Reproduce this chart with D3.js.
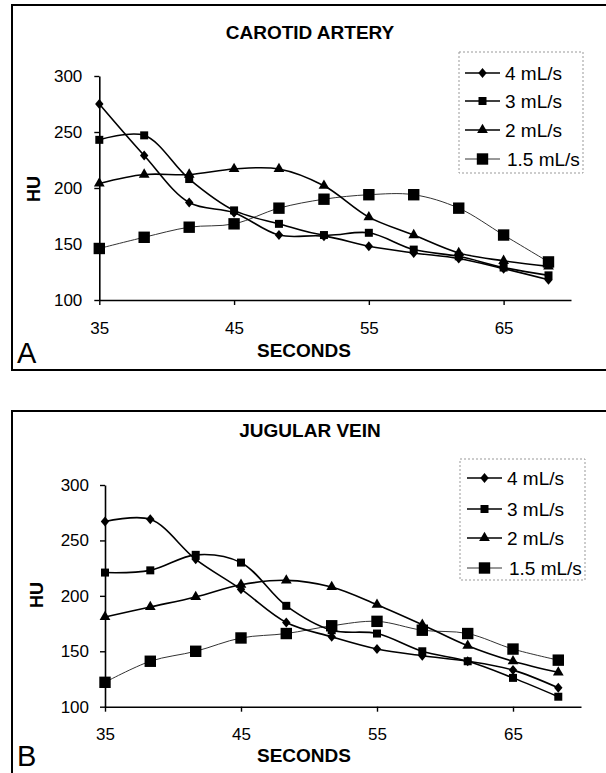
<!DOCTYPE html>
<html><head><meta charset="utf-8">
<script src="https://cdn.jsdelivr.net/npm/d3@7"></script>
<style>
html,body{margin:0;padding:0;background:#fff;}
svg{display:block;font-family:"Liberation Sans",Arial,Helvetica,sans-serif;}
</style></head>
<body>
<svg id="chart" width="606" height="773"></svg>
<script>
const times = [35, 38.33, 41.67, 45, 48.33, 51.67, 55, 58.33, 61.67, 65, 68.33];
const seriesNames = ["4 mL/s", "3 mL/s", "2 mL/s", "1.5 mL/s"];
const xTicks = [35, 45, 55, 65];
const yTicks = [100, 150, 200, 250, 300];

const carotid4  = [275, 229, 187, 178, 158, 157, 148, 142, 137, 128, 118];
const carotid3  = [243, 247, 208, 180, 168, 158, 160, 145, 139, 129, 122];
const carotid2  = [204, 212, 212, 217, 217, 202, 174, 158, 142, 135, 130];
const carotid15 = [146, 156, 165, 168, 182, 190, 194, 194, 182, 158, 134];

const jugular4  = [267, 269, 233, 206, 176, 163, 152, 146, 141, 133, 117];
const jugular3  = [221, 223, 237, 230, 191, 169, 166, 150, 141, 126, 109];
const jugular2  = [181, 190, 199, 210, 214, 208, 192, 174, 155, 141, 131];
const jugular15 = [122, 141, 150, 162, 166, 173, 177, 169, 166, 152, 142];

const panels = [
  {title: "CAROTID ARTERY", letter: "A", series: [carotid4, carotid3, carotid2, carotid15],
   frame: {x: 12, y: 5, h: 365}, plot: {l: 99.3, r: 571, t: 76, b: 300},
   titleY: 39, xLabY: 357, letterY: 363, huX: 40, huY: 189, tickPadX: 17, tickPadY: 12,
   legend: {l: 459, r: 583, t: 52, b: 173, rows: [73, 101, 130, 159], lx: 465}},
  {title: "JUGULAR VEIN", letter: "B", series: [jugular4, jugular3, jugular2, jugular15],
   frame: {x: 12, y: 411, h: 420}, plot: {l: 105, r: 581, t: 485, b: 706.7},
   titleY: 437, xLabY: 762, letterY: 766, huX: 43, huY: 595, tickPadX: 16, tickPadY: 11,
   legend: {l: 460, r: 585, t: 459, b: 580, rows: [478, 509, 538, 568], lx: 467}}
];

// marker shapes
const diamondSym = {draw(ctx, s){ const w = 4.2, h = 5; ctx.moveTo(0,-h); ctx.lineTo(w,0); ctx.lineTo(0,h); ctx.lineTo(-w,0); ctx.closePath(); }};
const styles = [
  {sym: diamondSym, size: 1, width: 1.6, color: "#000"},
  {sym: d3.symbolSquare, size: 64, width: 1.6, color: "#000"},
  {sym: d3.symbolTriangle, size: 50, width: 1.6, color: "#000"},
  {sym: d3.symbolSquare, size: 130, width: 1, color: "#333"}
];

const svg = d3.select("#chart");

panels.forEach(p => {
  const g = svg.append("g");
  // frame
  g.append("rect").attr("x", p.frame.x).attr("y", p.frame.y)
    .attr("width", 620).attr("height", p.frame.h)
    .attr("fill", "none").attr("stroke", "#000").attr("stroke-width", 2);

  const x = d3.scaleLinear().domain([35, 70]).range([p.plot.l, p.plot.r]);
  const y = d3.scaleLinear().domain([100, 300]).range([p.plot.b, p.plot.t]);

  // axes
  const xa = g.append("g").attr("transform", `translate(0,${p.plot.b})`)
    .call(d3.axisBottom(x).tickValues(xTicks).tickSizeInner(5).tickSizeOuter(0).tickPadding(p.tickPadX).tickFormat(d3.format("d")));
  const ya = g.append("g").attr("transform", `translate(${p.plot.l},0)`)
    .call(d3.axisLeft(y).tickValues(yTicks).tickSizeInner(5).tickSizeOuter(0).tickPadding(p.tickPadY).tickFormat(d3.format("d")));
  [xa, ya].forEach(a => {
    a.selectAll("path.domain").attr("stroke", "#000").attr("stroke-width", 1.6);
    a.selectAll(".tick line").attr("stroke", "#000").attr("stroke-width", 1.4);
    a.selectAll(".tick text").attr("font-size", 17).attr("fill", "#000")
      .attr("font-family", "'Liberation Sans',Arial,sans-serif");
  });

  // title
  g.append("text").attr("x", 310).attr("y", p.titleY).attr("text-anchor", "middle")
    .attr("font-size", 19).attr("font-weight", "bold").text(p.title);
  // x label
  g.append("text").attr("x", 304).attr("y", p.xLabY).attr("text-anchor", "middle")
    .attr("font-size", 19).attr("font-weight", "bold").text("SECONDS");
  // y label
  g.append("text").attr("transform", `translate(${p.huX},${p.huY}) rotate(-90)`)
    .attr("text-anchor", "middle").attr("font-size", 18).attr("font-weight", "bold").text("HU");
  // panel letter
  g.append("text").attr("x", 17).attr("y", p.letterY).attr("font-size", 29).text(p.letter);

  // lines
  const line = d3.line().x((d, i) => x(times[i])).y(d => y(d)).curve(d3.curveCatmullRom.alpha(0.5));
  [3, 2, 1, 0].forEach(k => {
    const st = styles[k];
    g.append("path").datum(p.series[k]).attr("d", line)
      .attr("fill", "none").attr("stroke", st.color).attr("stroke-width", st.width);
  });
  [3, 2, 1, 0].forEach(k => {
    const st = styles[k];
    g.append("g").selectAll("path").data(p.series[k]).join("path")
      .attr("transform", (d, i) => `translate(${x(times[i])},${y(d)})`)
      .attr("d", d3.symbol(st.sym, st.size)).attr("fill", "#000");
  });

  // legend
  const L = p.legend;
  g.append("rect").attr("x", L.l).attr("y", L.t).attr("width", L.r - L.l).attr("height", L.b - L.t)
    .attr("fill", "none").attr("stroke", "#999").attr("stroke-width", 1).attr("stroke-dasharray", "2,2");
  seriesNames.forEach((name, k) => {
    const st = styles[k];
    const ry = L.rows[k];
    g.append("line").attr("x1", L.lx).attr("x2", L.lx + 35).attr("y1", ry).attr("y2", ry)
      .attr("stroke", st.color).attr("stroke-width", st.width);
    g.append("path").attr("transform", `translate(${L.lx + 17.5},${ry})`)
      .attr("d", d3.symbol(st.sym, st.size)).attr("fill", "#000");
    g.append("text").attr("x", L.lx + (k === 3 ? 42 : 40)).attr("y", ry + 7)
      .attr("font-size", 19).text(name);
  });
});
</script>
</body></html>
